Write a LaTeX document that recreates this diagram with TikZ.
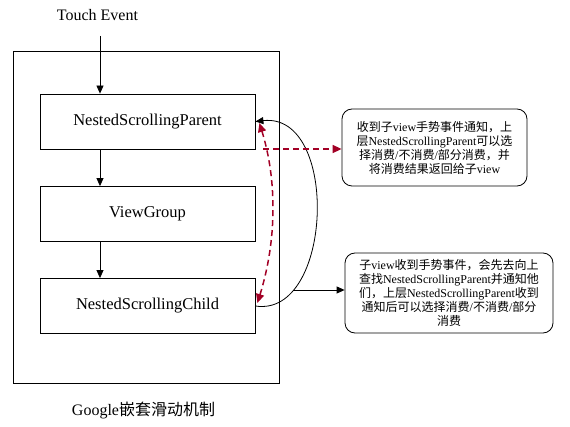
\documentclass[tikz,border=0pt]{standalone}
\usepackage{fontspec}
\setmainfont{Liberation Serif}
\newfontfamily\cjkf{Noto Sans CJK SC}
\usetikzlibrary{arrows.meta,calc}
\definecolor{darkred}{HTML}{A20025}
\begin{document}
\begin{tikzpicture}[x=1pt,y=-1pt,
  box/.style={draw, line width=0.8pt, minimum width=215pt, minimum height=55pt, inner sep=0pt, font=\fontsize{16.5}{19}\selectfont},
  note/.style={draw, line width=0.8pt, rounded corners=10pt, align=center, inner sep=0pt, font=\fontsize{12}{14}\selectfont},
  lbl/.style={font=\fontsize{16}{19}\selectfont, inner sep=0pt},
  arr/.style={line width=0.8pt, -{Triangle[length=8pt,width=7pt]}},
  redarr/.style={draw=darkred, line width=1.5pt, dash pattern=on 6pt off 4pt, -{Triangle[length=9pt,width=8pt]}},
  reddbl/.style={draw=darkred, line width=1.5pt, dash pattern=on 6pt off 4pt, {Triangle[length=9pt,width=8pt]}-{Triangle[length=9pt,width=8pt]}}
]
\useasboundingbox (0,0) rectangle (570,427);
\node[draw, line width=0.8pt, minimum width=265.5pt, minimum height=332pt, inner sep=0pt] (frame) at (146.25,217) {};
\node[lbl] (te) at (97.5,15) {Touch Event};
\coordinate (tstart) at (100,36);
\node[box] (nsp) at (147.5,121.5) {NestedScrollingParent};
\node[box] (vg) at (147.5,214) {ViewGroup};
\node[box] (nsc) at (147.5,306) {NestedScrollingChild};
\draw[arr] (tstart) -- (tstart |- nsp.north);
\draw[arr] (nsp.south -| tstart) -- (vg.north -| tstart);
\draw[arr] (vg.south -| tstart) -- (nsc.north -| tstart);
\node[note, minimum width=185pt, minimum height=77pt] (n1) at (434.5,147.5) {{\cjkf 收到子}view{\cjkf 手势事件通知，上}\\{\cjkf 层}NestedScrollingParent{\cjkf 可以选}\\{\cjkf 择消费}/{\cjkf 不消费}/{\cjkf 部分消费，并}\\{\cjkf 将消费结果返回给子}view};
\node[note, minimum width=208pt, minimum height=80pt] (n2) at (449,293) {{\cjkf 子}view{\cjkf 收到手势事件，会先去向上}\\{\cjkf 查找}NestedScrollingParent{\cjkf 并通知他}\\{\cjkf 们，上层}NestedScrollingParent{\cjkf 收到}\\{\cjkf 通知后可以选择消费}/{\cjkf 不消费}/{\cjkf 部分}\\{\cjkf 消费}};
\node[lbl] (cap) at (143.5,410) {Google{\cjkf 嵌套滑动机制}};
\draw[arr] (nsc.east) .. controls (333,318) and (340,112) .. (nsp.east);
\coordinate (c2) at (292.5,290);
\draw[arr] (c2) -- (c2 -| n2.west);
\draw[reddbl] ($(nsc.east)+(2,-3)$) .. controls (277,240) and (277,180) .. ($(nsp.east)+(4,1.5)$);
\coordinate (r1) at (263,149);
\draw[redarr] (r1) -- (r1 -| n1.west);
\end{tikzpicture}
\end{document}
